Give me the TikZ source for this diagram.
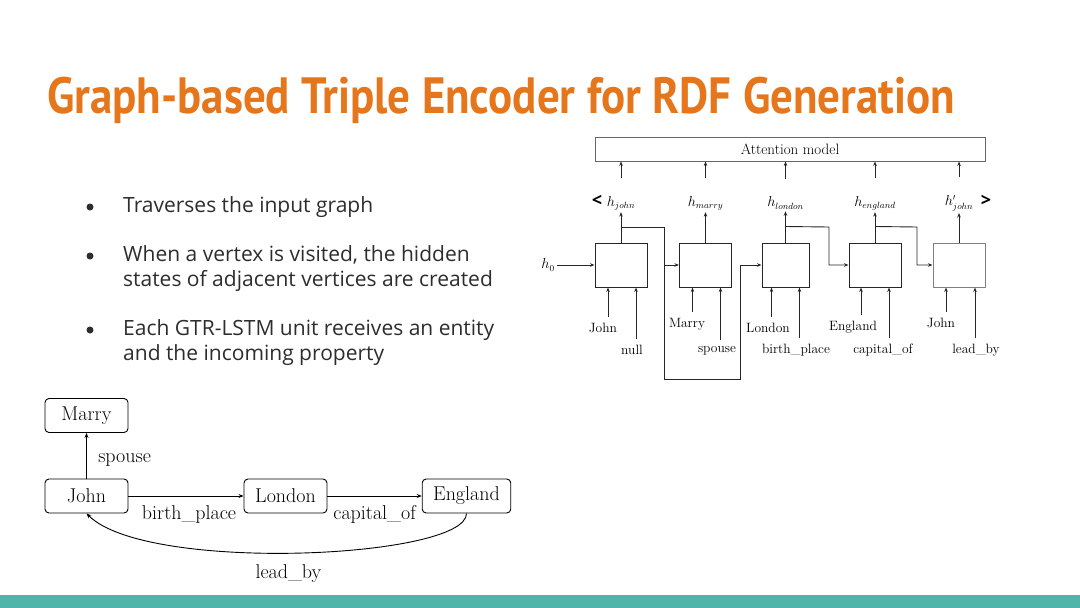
\documentclass[tikz,border=0pt]{standalone}
\usepackage{fontspec}
\usepackage{amsmath}
\usetikzlibrary{arrows.meta}
\newfontfamily\titlefont{PT Sans}
\newfontfamily\slidefont{Open Sans}
\definecolor{titleorange}{RGB}{229,118,28}
\definecolor{barteal}{RGB}{80,180,170}
\definecolor{bodygray}{RGB}{45,45,45}

\begin{document}
\begin{tikzpicture}[x=1pt,y=-1pt,
 cell/.style={draw=black!85, line width=1pt, minimum width=52pt, minimum height=44pt, inner sep=0pt},
 ent/.style={draw, line width=0.9pt, rounded corners=4pt, minimum width=83pt, minimum height=34pt, inner xsep=11pt, font=\fontsize{20}{22}\selectfont},
 small/.style={font=\fontsize{13.5}{15}\selectfont, inner sep=2pt},
 big/.style={font=\fontsize{20}{22}\selectfont},
 arr/.style={-{Stealth[length=4.5pt,width=3.5pt]}, line width=0.9pt, black!85},
 garr/.style={-{Stealth[length=5pt,width=4pt]}, line width=0.9pt},
 bullet/.style={circle, fill=bodygray, inner sep=0pt, minimum size=7pt},
 item/.style={anchor=base west, align=left, inner sep=0pt, text=bodygray, font=\slidefont\fontsize{21}{24.5}\selectfont}]
 \useasboundingbox (0,0) rectangle (1080,608);
 \fill[barteal] (0,595) rectangle (1080,608);
 \node[anchor=base west, inner sep=0pt, text=titleorange] (title) at (47,113)
  {\resizebox{908pt}{\height}{\titlefont\bfseries\fontsize{51}{60}\selectfont Graph-based Triple Encoder for RDF Generation}};

 \node[bullet] (d1) at (90,207) {};
 \node[item] (t1) at (123,212) {Traverses the input graph};
 \node[bullet] (d2) at (90,256) {};
 \node[item] (t2) at (123,286) {When a vertex is visited, the hidden\\states of adjacent vertices are created};
 \node[bullet] (d3) at (90,330) {};
 \node[item] (t3) at (123,360) {Each GTR-LSTM unit receives an entity\\and the incoming property};

 \node[draw=black!60, line width=0.9pt, minimum width=390pt, minimum height=24pt, font=\fontsize{15}{17}\selectfont] (att) at (790,149) {Attention model};
 \node[cell] (c1) at (621,265) {};
 \node[cell] (c2) at (705.5,265) {};
 \node[cell, minimum width=47pt] (c3) at (785.5,265) {};
 \node[cell] (c4) at (875,265) {};
 \node[cell, draw=black!50] (c5) at (959,265) {};
 \node[small] (h1) at (621,203) {$h_{john}$};
 \node[small] (h2) at (705.5,203) {$h_{marry}$};
 \node[small] (h3) at (785.5,203) {$h_{london}$};
 \node[small] (h4) at (875,203) {$h_{england}$};
 \node[small] (h5) at (959,203) {$h'_{john}$};
 \node[font=\slidefont\bfseries\fontsize{18}{20}\selectfont] (lt) at (597,201) {<};
 \node[font=\slidefont\bfseries\fontsize{18}{20}\selectfont] (gt) at (986,201) {>};
 \node[small] (h0) at (548,265) {$h_0$};
 \draw[arr] (h0) -- (c1.west);
 \draw[arr] (c1.north) -- (h1.south);
 \draw[arr] (c2.north) -- (h2.south);
 \draw[arr] (c3.north) -- (h3.south);
 \draw[arr] (c4.north) -- (h4.south);
 \draw[arr] (c5.north) -- (h5.south);
 \draw[arr] ([yshift=16pt]h1.north) -- (h1.north |- att.south);
 \draw[arr] ([yshift=16pt]h2.north) -- (h2.north |- att.south);
 \draw[arr] ([yshift=16pt]h3.north) -- (h3.north |- att.south);
 \draw[arr] ([yshift=16pt]h4.north) -- (h4.north |- att.south);
 \draw[arr] ([yshift=16pt]h5.north) -- (h5.north |- att.south);

 \coordinate (b1) at ([yshift=15pt]c1.north);
 \coordinate (j1) at (664,379);
 \coordinate (j2) at (740,379);
 \draw[arr] (b1) -| (j1) -- (j2) |- (c3.west);
 \draw[arr] (j1 |- c2.west) -- (c2.west);
 \coordinate (b3) at ([yshift=16pt]c3.north);
 \coordinate (k3) at (829,227);
 \draw[arr] (b3) -- (k3) |- (c4.west);
 \coordinate (b4) at ([yshift=16pt]c4.north);
 \coordinate (k4) at (917,227);
 \draw[arr] (b4) -- (k4) |- (c5.west);

 \node[small] (e1) at (603,328) {John};
 \node[small] (r1) at (632,350) {null};
 \node[small] (e2) at (687,324) {Marry};
 \node[small] (r2) at (717,351) {spouse};
 \node[small] (e3) at (768,328) {London};
 \node[small] (r3) at (796,350) {birth\_place};
 \node[small] (e4) at (853,327) {England};
 \node[small] (r4) at (883,350) {capital\_of};
 \node[small] (e5) at (941,323) {John};
 \node[small] (r5) at (976,350) {lead\_by};
 \draw[arr] ([xshift=-13pt,yshift=4pt]c1.south |- e1.north) -- ([xshift=-13pt]c1.south);
 \draw[arr] ([xshift=15pt,yshift=4pt]c1.south |- r1.north) -- ([xshift=15pt]c1.south);
 \draw[arr] ([xshift=-13pt,yshift=4pt]c2.south |- e2.north) -- ([xshift=-13pt]c2.south);
 \draw[arr] ([xshift=15pt,yshift=4pt]c2.south |- r2.north) -- ([xshift=15pt]c2.south);
 \draw[arr] ([xshift=-14pt,yshift=4pt]c3.south |- e3.north) -- ([xshift=-14pt]c3.south);
 \draw[arr] ([xshift=14pt,yshift=4pt]c3.south |- r3.north) -- ([xshift=14pt]c3.south);
 \draw[arr] ([xshift=-14pt,yshift=4pt]c4.south |- e4.north) -- ([xshift=-14pt]c4.south);
 \draw[arr] ([xshift=14pt,yshift=4pt]c4.south |- r4.north) -- ([xshift=14pt]c4.south);
 \draw[arr] ([xshift=-13pt,yshift=4pt]c5.south |- e5.north) -- ([xshift=-13pt]c5.south);
 \draw[arr] ([xshift=16pt,yshift=4pt]c5.south |- r5.north) -- ([xshift=16pt]c5.south);

 \node[ent] (marry) at (86.5,415.5) {Marry};
 \node[ent] (john) at (86.5,496) {John};
 \node[ent] (london) at (285.5,496) {London};
 \node[ent] (england) at (466.5,496) {England};
 \draw[garr] (john) -- (marry) node[midway, right=8pt, yshift=-4pt, big] {spouse};
 \draw[garr] (john) -- (london) node[midway, below=6pt, xshift=3pt, big] {birth\_place};
 \draw[garr] (london) -- (england) node[midway, below=6pt, big] {capital\_of};
 \draw[garr] (england.south) .. controls ([yshift=-45pt]england.south) and ([xshift=60pt,yshift=-60pt]john.south) .. (john.south) node[pos=0.52, below=8pt, big] {lead\_by};
\end{tikzpicture}
\end{document}
